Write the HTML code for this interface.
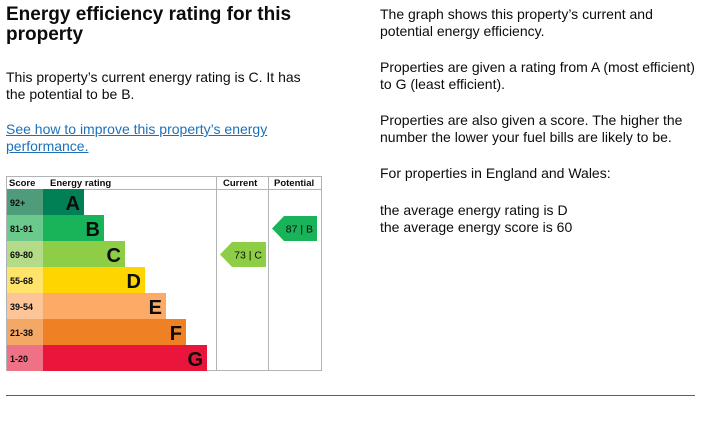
<!DOCTYPE html>
<html><head><meta charset="utf-8">
<style>
body{margin:0;width:722px;height:437px;background:#fff;font-family:"Liberation Sans",Arial,sans-serif;color:#0b0c0c;position:relative;overflow:hidden}
.t{position:absolute;margin:0}
h1{position:absolute;left:6px;top:5px;margin:0;font-size:19px;line-height:20px;font-weight:bold;width:320px}
p{position:absolute;margin:0;font-size:14px;line-height:17px}
a{color:#1d70b8;text-decoration:underline}
#rule{position:absolute;left:6px;top:395px;width:689px;height:1px;background:#1d70b8}
</style></head><body>
<h1>Energy efficiency rating for this property</h1>
<p style="left:6px;top:69px;width:310px">This property’s current energy rating is C. It has the potential to be B.</p>
<p style="left:6px;top:121px;width:300px"><a href="#">See how to improve this property’s energy performance.</a></p>
<p style="left:380px;top:6px;width:320px">The graph shows this property’s current and potential energy efficiency.</p>
<p style="left:380px;top:59px;width:320px">Properties are given a rating from A (most efficient) to G (least efficient).</p>
<p style="left:380px;top:112px;width:330px">Properties are also given a score. The higher the number the lower your fuel bills are likely to be.</p>
<p style="left:380px;top:165px;width:320px">For properties in England and Wales:</p>
<p style="left:380px;top:202px;width:320px">the average energy rating is D<br>the average energy score is 60</p>
<div id="rule"></div>
<svg id="chart" style="position:absolute;left:0;top:0" width="722" height="437"></svg>
<script>
const bands=["A","B","C","D","E","F","G"];
const ranges=["92+","81-91","69-80","55-68","39-54","21-38","1-20"];
const mins=[92,81,69,55,39,21,1];
const barWidths=[41,61,82,102,123,143,164];
const currentScore=73, currentBand="C";
const potentialScore=87, potentialBand="B";
const colors=["#008054","#19b459","#8dce46","#ffd500","#fcaa65","#ef8023","#e9153b"];
const tints=["#4f9c7b","#6cc98d","#b4dc88","#ffe36a","#fdc597","#f4a866","#ef7186"];
const NS="http://www.w3.org/2000/svg", svg=document.getElementById('chart');
const X0=6,X1=322,Y0=176,HDR=13,RH=26,SC=43,CUR=216,POT=268;
function el(t,a,p){const e=document.createElementNS(NS,t);for(const k in a)e.setAttribute(k,a[k]);(p||svg).appendChild(e);return e;}
function rowY(i){return Y0+HDR+i*RH;}
function bandIndex(s){for(let i=0;i<mins.length;i++)if(s>=mins[i])return i;return mins.length-1;}
const frame=el('rect',{x:X0+.5,y:Y0+.5,width:X1-X0-1,height:HDR+7*RH-1,fill:'none',stroke:'#b1b4b6'});

[[CUR,'current-divider'],[POT,'potential-divider']].forEach(([x,n])=>{const l=el('line',{x1:x+.5,x2:x+.5,y1:Y0,y2:Y0+HDR+7*RH,stroke:'#b1b4b6'});});
const hl=el('line',{x1:X0,x2:X1,y1:Y0+HDR+.5,y2:Y0+HDR+.5,stroke:'#b1b4b6'});
[["Score",9,'score-header'],["Energy rating",50,'rating-header'],["Current",223,'current-header'],["Potential",274,'potential-header']].forEach(([t,x,n])=>{const e=el('text',{x:x,y:Y0+10,'font-size':'9.5','font-weight':'bold',fill:'#0b0c0c'});e.textContent=t;});
bands.forEach((b,i)=>{const y=rowY(i);
 const s=el('rect',{x:X0+1,y:y,width:SC-X0-1,height:RH,fill:tints[i]});
 const st=el('text',{x:10,y:y+17,'font-size':'9','font-weight':'bold',fill:'#0b0c0c'});st.textContent=ranges[i];
 const r=el('rect',{x:SC,y:y,width:barWidths[i],height:RH,fill:colors[i]});
 const lt=el('text',{x:SC+barWidths[i]-4,y:y+21,'font-size':'20','font-weight':'bold','text-anchor':'end',fill:'#0b0c0c'});lt.textContent=b;
});
function arrow(score,band,x0,x1,name){const i=bandIndex(score);const y=rowY(i)+1,h=RH-1;
 const g=el('g',{});
 el('polygon',{points:`${x0},${y+h/2} ${x0+12},${y} ${x1},${y} ${x1},${y+h} ${x0+12},${y+h}`,fill:colors[i]},g);
 const t=el('text',{x:x1-4,y:y+16.5,'font-size':'10.5','text-anchor':'end',fill:'#0b0c0c'},g);t.textContent=score+" |  "+band;
}
arrow(currentScore,currentBand,220,266,'current-arrow');
arrow(potentialScore,potentialBand,272,317,'potential-arrow');
</script>
</body></html>
